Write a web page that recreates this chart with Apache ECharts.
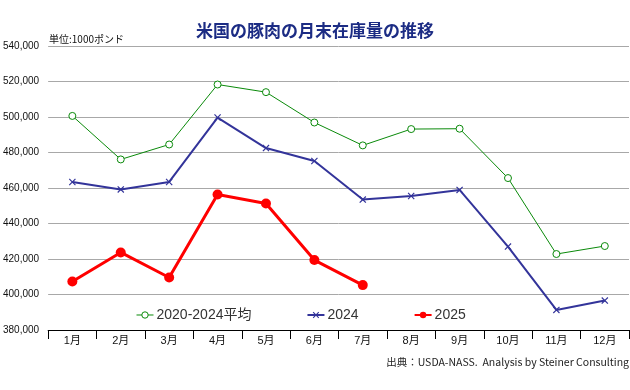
<!DOCTYPE html>
<html><head><meta charset="utf-8">
<script src="https://cdn.jsdelivr.net/npm/echarts@6/dist/echarts.min.js"></script>
<style>html,body{margin:0;padding:0;background:#fff}#c{width:630px;height:390px}</style>
</head><body><div id="c"></div>
<script>
const months = ['1月','2月','3月','4月','5月','6月','7月','8月','9月','10月','11月','12月'];
const avg2020_2024 = [500600, 476100, 484500, 518300, 514000, 496900, 484000, 493200, 493400, 465600, 422800, 427300];
const y2024 = [463400, 459200, 463400, 499700, 482500, 475200, 453500, 455500, 458900, 427000, 391300, 396600];
const y2025 = [407300, 423700, 409600, 456300, 451300, 419400, 405300];
const seriesNames = ['2020-2024平均', '2024', '2025'];
const FONT = '"Liberation Sans", "Noto Sans CJK JP", sans-serif';
const crossPath = 'path://M0,1.2L1.2,0L5,3.8L8.8,0L10,1.2L6.2,5L10,8.8L8.8,10L5,6.2L1.2,10L0,8.8L3.8,5Z';

const chart = echarts.init(document.getElementById('c'), null, {renderer: 'canvas'});
chart.setOption({
  animation: false,
  backgroundColor: '#fff',
  textStyle: {fontFamily: FONT},
  title: [{
    text: '米国の豚肉の月末在庫量の推移',
    left: 'center', top: 17,
    textStyle: {fontSize: 17, fontWeight: 'bold', color: '#1c2c84', fontFamily: '"Noto Sans CJK JP", sans-serif'}
  }, {
    text: '単位:1000ポンド',
    left: 44, top: 29,
    textStyle: {fontSize: 10, fontWeight: 'normal', color: '#111', fontFamily: '"Noto Sans CJK JP", sans-serif'}
  }, {
    text: '出典：USDA-NASS.  Analysis by Steiner Consulting',
    right: -4, top: 352,
    textStyle: {fontSize: 10.5, fontWeight: 'normal', color: '#222', fontFamily: '"Noto Sans CJK JP", sans-serif'}
  }],
  legend: {
    left: 131, top: 303,
    itemGap: 55, itemWidth: 17, itemHeight: 8,
    textStyle: {fontSize: 14, color: '#333', fontFamily: FONT, padding: [0,0,0,-2]},
    data: [
      {name: seriesNames[0], itemStyle: {borderWidth: 1}, lineStyle: {width: 1}},
      {name: seriesNames[1]},
      {name: seriesNames[2]}
    ]
  },
  grid: {left: 45, right: 1, top: 46, bottom: 60, containLabel: false},
  xAxis: {
    type: 'category', data: months, boundaryGap: true,
    axisLine: {lineStyle: {color: '#000', width: 1}},
    axisTick: {show: true, inside: false, length: 9, lineStyle: {color: '#000'}},
    axisLabel: {fontSize: 11, color: '#111', margin: 5},
    splitLine: {show: false}
  },
  yAxis: {
    type: 'value', min: 380000, max: 540000, interval: 20000,
    axisLine: {show: false}, axisTick: {show: false},
    axisLabel: {fontSize: 10, color: '#111', margin: 9,
      formatter: v => v.toLocaleString('en-US')},
    splitLine: {lineStyle: {color: '#a8a8a8', width: 1}}
  },
  series: [{
    name: seriesNames[0], type: 'line', data: avg2020_2024,
    symbol: 'circle', symbolSize: 7,
    lineStyle: {color: '#0a8a0a', width: 1},
    itemStyle: {color: '#ffffff', borderColor: '#0a8a0a', borderWidth: 1},
    emphasis: {disabled: true},
    z: 2
  }, {
    name: seriesNames[1], type: 'line', data: y2024,
    symbol: crossPath, symbolSize: 7,
    lineStyle: {color: '#33349a', width: 2},
    itemStyle: {color: '#33349a'},
    emphasis: {disabled: true},
    z: 3
  }, {
    name: seriesNames[2], type: 'line', data: y2025,
    symbol: 'circle', symbolSize: 10,
    lineStyle: {color: '#ff0000', width: 3},
    itemStyle: {color: '#ff0000'},
    emphasis: {disabled: true},
    z: 4
  }]
});
</script></body></html>
